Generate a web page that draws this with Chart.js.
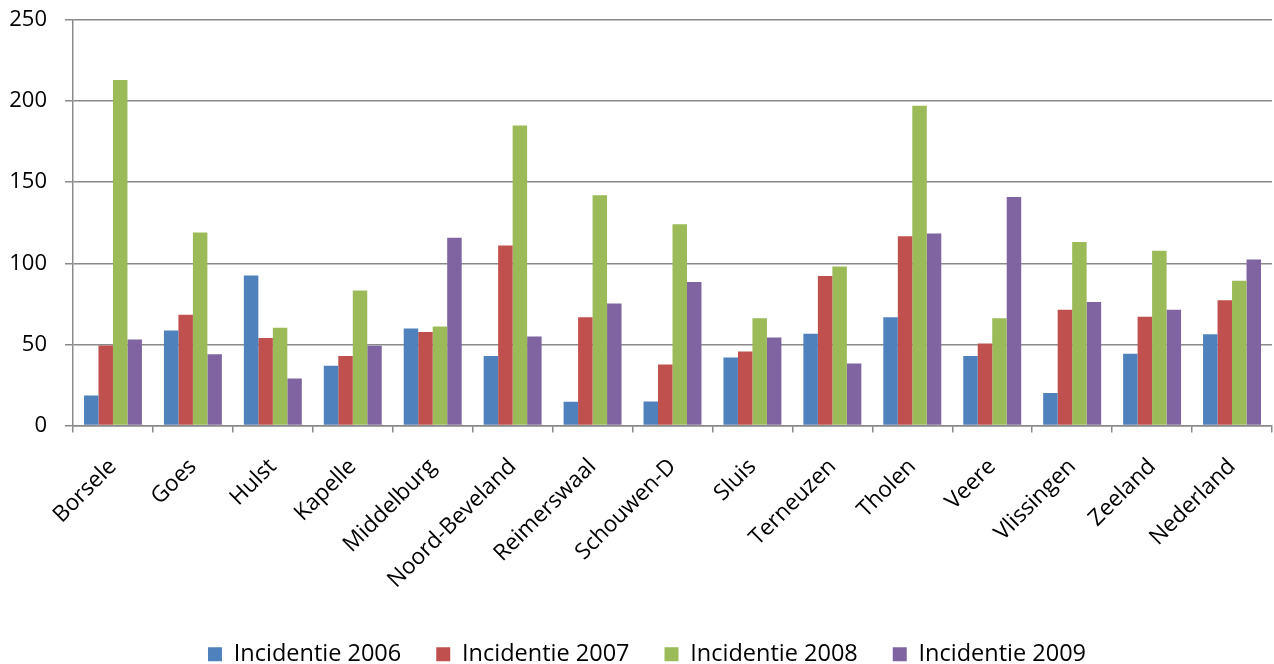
<!DOCTYPE html>
<html>
<head>
<meta charset="utf-8">
<script src="https://cdn.jsdelivr.net/npm/chart.js@4/dist/chart.umd.min.js"></script>
<style>
  html, body { margin: 0; padding: 0; background: #ffffff; }
  #wrap { width: 1274px; height: 664px; position: relative; }
</style>
</head>
<body>
<div id="wrap"><canvas id="c"></canvas></div>
<script>
// Gemeenten in Zeeland plus provincie- en landelijk gemiddelde
const categories = ['Borsele', 'Goes', 'Hulst', 'Kapelle', 'Middelburg', 'Noord-Beveland',
  'Reimerswaal', 'Schouwen-D', 'Sluis', 'Terneuzen', 'Tholen', 'Veere', 'Vlissingen',
  'Zeeland', 'Nederland'];

// Incidentie per jaar
const incidentie2006 = [18.5, 58.5, 92.5, 36.8, 59.8, 42.9, 14.6, 14.8, 41.9, 56.5, 66.7, 42.9, 20.1, 44.2, 56.3];
const incidentie2007 = [49.3, 68.3, 54.0, 42.9, 57.7, 111.0, 66.7, 37.6, 45.6, 92.2, 116.6, 50.5, 71.3, 67.0, 77.2];
const incidentie2008 = [213.0, 119.0, 60.2, 83.2, 61.0, 185.0, 142.0, 124.0, 66.1, 98.0, 197.2, 66.1, 113.2, 107.8, 89.3];
const incidentie2009 = [53.0, 43.9, 29.0, 49.1, 115.8, 54.8, 75.2, 88.5, 54.2, 38.2, 118.3, 140.9, 76.2, 71.3, 102.3];

const seriesLabels = ['Incidentie 2006', 'Incidentie 2007', 'Incidentie 2008', 'Incidentie 2009'];
const seriesColors = ['#4F81BD', '#C0504D', '#9BBB59', '#8064A2'];
const seriesValues = [incidentie2006, incidentie2007, incidentie2008, incidentie2009];

const yMin = 0, yMax = 250, yStep = 50;

const FONT = "'Open Sans', 'DejaVu Sans', sans-serif";
const gridColor = '#8a8a8a';

const datasets = seriesValues.map((vals, i) => ({
  label: seriesLabels[i],
  data: vals,
  backgroundColor: seriesColors[i],
  borderWidth: 0,
  barPercentage: 1.0,
  categoryPercentage: 0.725
}));

// Nudge the legend block a little right and down after layout
const legendNudge = {
  id: 'legendNudge',
  afterLayout(chart) {
    const lg = chart.legend;
    if (!lg) return;
    const dx = 11, dy = 12;
    lg.left += dx; lg.right += dx;
    lg.top += dy; lg.bottom += dy;
  }
};

new Chart(document.getElementById('c'), {
  type: 'bar',
  data: { labels: categories, datasets },
  plugins: [legendNudge],
  options: {
    responsive: true,
    maintainAspectRatio: false,
    animation: false,
    layout: { padding: { top: 20, right: 2, left: 0, bottom: 0 } },
    plugins: {
      tooltip: { enabled: false },
      legend: {
        position: 'bottom',
        padding: 0,
        labels: {
          font: { family: FONT, size: 23.5 },
          color: '#000000',
          boxWidth: 14,
          boxHeight: 14,
          padding: 35,
          useBorderRadius: false
        }
      }
    },
    scales: {
      x: {
        grid: {
          display: true,
          drawOnChartArea: false,
          drawTicks: true,
          tickLength: 7,
          color: gridColor,
          lineWidth: 1.5,
          offset: true
        },
        border: { display: true, color: gridColor, width: 1.5 },
        ticks: {
          font: { family: FONT, size: 22.5 },
          color: '#000000',
          minRotation: 45,
          maxRotation: 45,
          autoSkip: false,
          padding: 21
        },
        afterFit(scale) { scale.height = 170; }
      },
      y: {
        min: yMin,
        max: yMax,
        ticks: {
          stepSize: yStep,
          font: { family: FONT, size: 22 },
          color: '#000000',
          padding: 18
        },
        grid: {
          color: gridColor,
          lineWidth: 1.5,
          drawTicks: true,
          tickLength: 8
        },
        border: { display: true, color: gridColor, width: 1.5 },
        afterFit(scale) {
          scale.width = 73;
          scale.paddingTop = 0;
          scale.paddingBottom = 0;
        }
      }
    }
  }
});
</script>
</body>
</html>
